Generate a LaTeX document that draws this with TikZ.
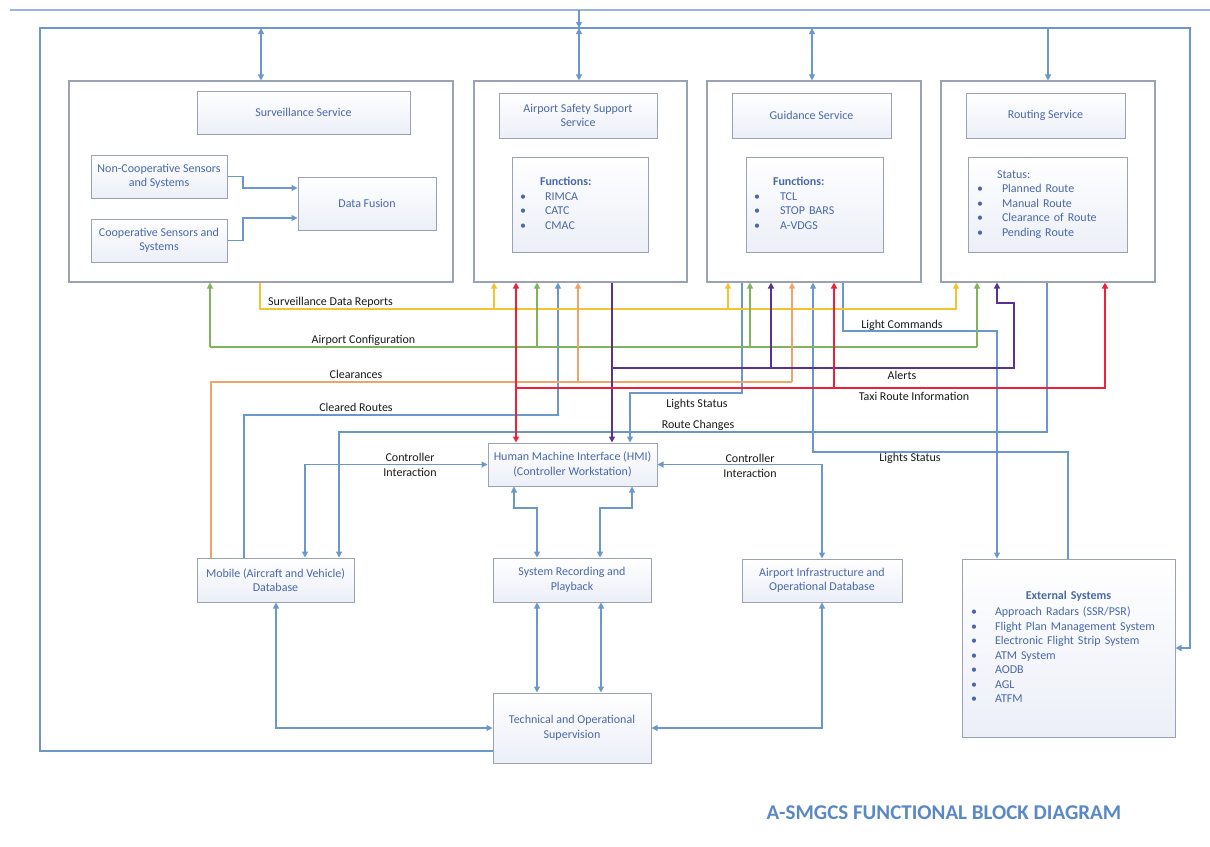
\documentclass[tikz,border=0pt]{standalone}
\usepackage{fontspec}
\setmainfont{Carlito}
\usetikzlibrary{arrows.meta}
\definecolor{lblue}{HTML}{6A97CC}
\definecolor{bgray}{HTML}{9AA2B4}
\definecolor{tblue}{HTML}{4A68A8}
\definecolor{boxfill}{HTML}{ECEFF8}
\definecolor{ly}{HTML}{F4C430}
\definecolor{lg}{HTML}{7FB45C}
\definecolor{lo}{HTML}{F2A468}
\definecolor{lr}{HTML}{F0203A}
\definecolor{lp}{HTML}{5B3291}
\definecolor{ttl}{HTML}{5A88C4}
\begin{document}
\begin{tikzpicture}[x=1pt,y=-1pt,
  font=\fontsize{12}{14.5}\selectfont,
  obox/.style={draw=bgray, line width=1.1pt, fill=white, inner sep=0pt},
  ibox/.style={draw=bgray, line width=1pt, top color=white, bottom color=boxfill, text=tblue, align=center, inner sep=0pt},
  lbox/.style={ibox, align=left, inner xsep=8pt, inner ysep=0pt},
  lab/.style={text=black!90, inner sep=1pt},
  bl/.style={draw=lblue, line width=1.1pt},
  cy/.style={draw=ly, line width=1.2pt},
  cg/.style={draw=lg, line width=1.2pt},
  co/.style={draw=lo, line width=1.2pt},
  cr/.style={draw=lr, line width=1.8pt},
  cp/.style={draw=lp, line width=1.5pt},
  tipA/.style={-{Triangle[length=6pt,width=6pt]}},
  tipB/.style={{Triangle[length=6pt,width=6pt]}-{Triangle[length=6pt,width=6pt]}},
]
\useasboundingbox (0,0) rectangle (1210,846);

% ---------- service boxes ----------
\node[obox, minimum width=384pt, minimum height=201pt] (survOuter) at (261,181.5) {};
\node[ibox, minimum width=213pt, minimum height=43pt] (survTitle) at (303.5,112.5) {Surveillance Service};
\node[ibox, minimum width=136pt, minimum height=43pt] (noncoop) at (159,176.5) {Non-Cooperative Sensors\\and Systems};
\node[ibox, minimum width=136pt, minimum height=43pt] (coop) at (159,240.5) {Cooperative Sensors and\\Systems};
\node[ibox, minimum width=138pt, minimum height=53pt] (fusion) at (367,203.5) {Data Fusion};

\node[obox, minimum width=213pt, minimum height=201pt] (safeOuter) at (580.5,181.5) {};
\node[ibox, minimum width=158pt, minimum height=45pt] (safeTitle) at (578,115.5) {Airport Safety Support\\Service};
\node[lbox, text width=120pt, minimum height=95pt] (safeFunc) at (580,204.5) {\begin{tabular}{@{}p{25pt}@{}l@{}}
\multicolumn{2}{@{}l}{\hspace*{20pt}\textbf{Functions:}}\\
\textbullet & RIMCA\\
\textbullet & CATC\\
\textbullet & CMAC
\end{tabular}};

\node[obox, minimum width=214pt, minimum height=201pt] (guidOuter) at (814,181.5) {};
\node[ibox, minimum width=159pt, minimum height=45pt] (guidTitle) at (811.5,115.5) {Guidance Service};
\node[lbox, text width=121pt, minimum height=95pt] (guidFunc) at (814.5,204.5) {\begin{tabular}{@{}p{26pt}@{}l@{}}
\multicolumn{2}{@{}l}{\hspace*{19pt}\textbf{Functions:}}\\
\textbullet & TCL\\
\textbullet & STOP BARS\\
\textbullet & A-VDGS
\end{tabular}};

\node[obox, minimum width=214pt, minimum height=201pt] (routOuter) at (1048,181.5) {};
\node[ibox, minimum width=159pt, minimum height=45pt] (routTitle) at (1045.5,115.5) {Routing Service};
\node[lbox, inner xsep=9pt, text width=141pt, minimum height=95pt] (routStat) at (1047.5,204.5) {\begin{tabular}{@{}p{25pt}@{}l@{}}
\multicolumn{2}{@{}l}{\hspace*{20pt}Status:}\\
\textbullet & Planned Route\\
\textbullet & Manual Route\\
\textbullet & Clearance of Route\\
\textbullet & Pending Route
\end{tabular}};

% ---------- lower boxes ----------
\node[ibox, minimum width=169pt, minimum height=43pt] (hmi) at (572.5,464.5) {Human Machine Interface (HMI)\\(Controller Workstation)};
\node[ibox, minimum width=157pt, minimum height=44pt] (mobile) at (275.5,580) {Mobile (Aircraft and Vehicle)\\Database};
\node[ibox, minimum width=158pt, minimum height=44pt] (rec) at (572,580) {System Recording and\\Playback};
\node[ibox, minimum width=160pt, minimum height=43pt] (infra) at (822,580.5) {Airport Infrastructure and\\Operational Database};
\node[ibox, minimum width=158pt, minimum height=70pt] (tech) at (572,728) {Technical and Operational\\Supervision};
\node[lbox, inner xsep=9pt, text width=195pt, minimum height=178pt] (ext) at (1068.5,648) {\begin{tabular}{@{}p{24pt}@{}p{171pt}@{}}
\multicolumn{2}{@{}c@{}}{\textbf{External Systems}}\\[2pt]
\textbullet & Approach Radars (SSR/PSR)\\
\textbullet & Flight Plan Management System\\
\textbullet & Electronic Flight Strip System\\
\textbullet & ATM System\\
\textbullet & AODB\\
\textbullet & AGL\\
\textbullet & ATFM
\end{tabular}};

% ---------- frame and top bus ----------
\coordinate (pageTop) at (579,10);
\draw[bl, draw=lblue!70] (10,10) -- (1210,10);
\draw[bl, tipA] (pageTop) -- (579,28);
\draw[bl, tipA] (tech.west |- 0,751) -| (40,28) -- (1190,28) |- (ext.east);
\draw[bl, tipB] (261,28) -- (261,0 |- survOuter.north);
\draw[bl, tipB] (579,28) -- (579,0 |- safeOuter.north);
\draw[bl, tipB] (812,28) -- (812,0 |- guidOuter.north);
\draw[bl, tipA] (1048,28) -- (1048,0 |- routOuter.north);

% ---------- surveillance internal ----------
\draw[bl, tipA] (noncoop.east) -- (243,176.5) |- (fusion.west |- 0,188);
\draw[bl, tipA] (coop.east) -- (243,240.5) |- (fusion.west |- 0,218);

% ---------- blue connectors ----------
\draw[bl, tipA] (244,0 |- mobile.north) |- (558,415) -- (558,0 |- safeOuter.south);
\draw[bl, tipA] (1047,0 |- routOuter.south) |- (339,432) -- (339,0 |- mobile.north);
\draw[bl, tipA] (742,0 |- guidOuter.south) |- (630,393) -- (630,0 |- hmi.north);
\draw[bl, tipA] (843,0 |- guidOuter.south) |- (997,331) -- (997,0 |- ext.north);
\draw[bl, tipA] (1068,0 |- ext.north) |- (813,452) -- (813,0 |- guidOuter.south);
\draw[bl, tipB] (hmi.west) -| (305,0 |- mobile.north);
\draw[bl, tipB] (hmi.east) -| (822,0 |- infra.north);
\draw[bl, tipB] (514,0 |- hmi.south) |- (537,508) -- (537,0 |- rec.north);
\draw[bl, tipB] (632,0 |- hmi.south) |- (600,508) -- (600,0 |- rec.north);
\draw[bl, tipB] (537,0 |- rec.south) -- (537,0 |- tech.north);
\draw[bl, tipB] (601,0 |- rec.south) -- (601,0 |- tech.north);
\draw[bl, tipB] (276,0 |- mobile.south) |- (tech.west);
\draw[bl, tipB] (822,0 |- infra.south) |- (tech.east);

% ---------- yellow: surveillance data reports ----------
\draw[cy, tipA] (260,0 |- survOuter.south) |- (956,309) -- (956,0 |- routOuter.south);
\draw[cy, tipA] (494,309) -- (494,0 |- safeOuter.south);
\draw[cy, tipA] (728,309) -- (728,0 |- guidOuter.south);

% ---------- green: airport configuration ----------
\draw[cg] (210,347) -- (977,347);
\draw[cg, tipA] (210,347) -- (210,0 |- survOuter.south);
\draw[cg, tipA] (537,347) -- (537,0 |- safeOuter.south);
\draw[cg, tipA] (750,347) -- (750,0 |- guidOuter.south);
\draw[cg, tipA] (977,347) -- (977,0 |- routOuter.south);

% ---------- orange: clearances ----------
\draw[co] (211,0 |- mobile.north) |- (792,382);
\draw[co, tipA] (578,382) -- (578,0 |- safeOuter.south);
\draw[co, tipA] (792,382) -- (792,0 |- guidOuter.south);

% ---------- purple: alerts ----------
\draw[cp, tipA] (612,0 |- safeOuter.south) -- (612,0 |- hmi.north);
\draw[cp, tipA] (612,368) -- (1014,368) -- (1014,303) -- (997,303) -- (997,0 |- routOuter.south);
\draw[cp, tipA] (771,368) -- (771,0 |- guidOuter.south);

% ---------- red: taxi route information ----------
\draw[cr, tipB] (516,0 |- safeOuter.south) -- (516,0 |- hmi.north);
\draw[cr, tipA] (516,388) -| (1105,0 |- routOuter.south);
\draw[cr, tipA] (834,388) -- (834,0 |- guidOuter.south);

% ---------- labels ----------
\node[lab] (lSDR) at (330.5,302) {Surveillance Data Reports};
\node[lab] (lAC) at (363.5,340) {Airport Configuration};
\node[lab] (lCl) at (356,374) {Clearances};
\node[lab] (lCR) at (356,407) {Cleared Routes};
\node[lab] (lLS1) at (697,404) {Lights Status};
\node[lab] (lRC) at (698,425) {Route Changes};
\node[lab] (lLC) at (902,325) {Light Commands};
\node[lab] (lAl) at (902,375) {Alerts};
\node[lab] (lTRI) at (914,396) {Taxi Route Information};
\node[lab] (lLS2) at (910,458) {Lights Status};
\node[lab, align=center] (lCI1) at (410,465) {Controller\\Interaction};
\node[lab, align=center] (lCI2) at (750,466) {Controller\\Interaction};

\node[text=ttl, font=\fontsize{21}{25}\selectfont\bfseries] (title) at (944,813) {A-SMGCS FUNCTIONAL BLOCK DIAGRAM};
\end{tikzpicture}
\end{document}
